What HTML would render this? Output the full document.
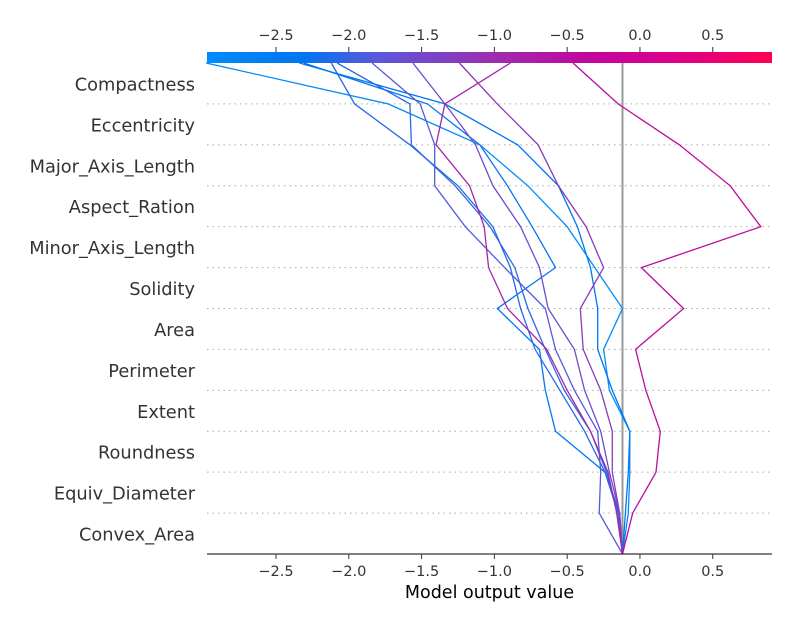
<!DOCTYPE html>
<html><head><meta charset="utf-8"><style>
html,body{margin:0;padding:0;background:#fff;}
svg{display:block;font-family:"DejaVu Sans","Liberation Sans",sans-serif;}
</style></head><body>
<svg id="chart" width="800" height="630" viewBox="0 0 800 630">
<defs><linearGradient id="cbar" x1="0" x2="1" y1="0" y2="0">
<stop offset="0" stop-color="#008bfb"/><stop offset="0.17" stop-color="#0075f0"/>
<stop offset="0.3" stop-color="#5a58dc"/><stop offset="0.5" stop-color="#9b2fb0"/>
<stop offset="0.67" stop-color="#c0069e"/><stop offset="0.8" stop-color="#d80090"/>
<stop offset="1" stop-color="#ff0052"/></linearGradient></defs>
</svg>
<script>
const features = ["Compactness","Eccentricity","Major_Axis_Length","Aspect_Ration","Minor_Axis_Length","Solidity","Area","Perimeter","Extent","Roundness","Equiv_Diameter","Convex_Area"];
const xTicks = [-2.5,-2.0,-1.5,-1.0,-0.5,0.0,0.5];
const xTickLabels = ["\u22122.5","\u22122.0","\u22121.5","\u22121.0","\u22120.5","0.0","0.5"];
const baseValue = -0.12;
const xMin = -2.974, xMax = 0.907;
const s1 = [-2.98,-1.73,-1.10,-0.77,-0.50,-0.31,-0.12,-0.25,-0.21,-0.07,-0.07,-0.08,-0.12];
const s2 = [-2.34,-1.34,-0.84,-0.56,-0.43,-0.34,-0.29,-0.29,-0.19,-0.07,-0.08,-0.10,-0.12];
const s3 = [-2.31,-1.46,-1.10,-0.91,-0.74,-0.58,-0.98,-0.69,-0.65,-0.58,-0.24,-0.15,-0.12];
const s4 = [-2.12,-1.96,-1.58,-1.25,-1.01,-0.89,-0.82,-0.72,-0.55,-0.38,-0.24,-0.14,-0.12];
const s5 = [-2.08,-1.58,-1.57,-1.27,-1.03,-0.86,-0.77,-0.65,-0.52,-0.34,-0.23,-0.15,-0.12];
const s6 = [-1.84,-1.51,-1.41,-1.41,-1.20,-0.93,-0.65,-0.58,-0.45,-0.29,-0.27,-0.28,-0.12];
const s7 = [-1.56,-1.34,-1.13,-1.01,-0.82,-0.69,-0.63,-0.45,-0.38,-0.27,-0.21,-0.14,-0.12];
const s8 = [-1.24,-0.98,-0.70,-0.56,-0.37,-0.25,-0.41,-0.39,-0.27,-0.19,-0.19,-0.14,-0.12];
const s9 = [-0.89,-1.34,-1.40,-1.17,-1.07,-1.04,-0.91,-0.64,-0.50,-0.34,-0.22,-0.16,-0.12];
const s10 = [-0.46,-0.15,0.27,0.62,0.83,0.01,0.30,-0.03,0.04,0.14,0.11,-0.05,-0.12];
const seriesList = [s1,s2,s3,s4,s5,s6,s7,s8,s9,s10];

const L=207,R=772,T=63,B=554;
const rowH=(B-T)/features.length;
const xs=v=>L+(v-xMin)/(xMax-xMin)*(R-L);
const ys=i=>T+i*rowH;
const NS="http://www.w3.org/2000/svg";
const svg=document.getElementById('chart');
function mk(tag,attrs,parent){const e=document.createElementNS(NS,tag);for(const k in attrs)e.setAttribute(k,attrs[k]);(parent||svg).appendChild(e);return e;}
const stops=[[0,[0,139,251]],[0.17,[0,117,240]],[0.3,[90,88,220]],[0.5,[155,47,176]],[0.67,[192,6,158]],[0.8,[216,0,144]],[1,[255,0,82]]];
function cmap(t){t=Math.max(0,Math.min(1,t));for(let i=1;i<stops.length;i++){if(t<=stops[i][0]){const a=stops[i-1],b=stops[i];const f=(t-a[0])/(b[0]-a[0]);const c=a[1].map((v,j)=>Math.round(v+(b[1][j]-v)*f));return `rgb(${c})`;}}return 'rgb(255,0,82)';}

features.forEach((f,i)=>{
  if(i>0){const g=mk('line',{x1:L,x2:R,y1:ys(i),y2:ys(i),stroke:'#aaa','stroke-width':1,'stroke-dasharray':'1.5,4'});
  
  }
  const t=mk('text',{x:195,y:ys(i)+rowH/2+7,'text-anchor':'end','font-size':17.8,fill:'#333'});
  t.textContent=f;
  
  
});
const bl=mk('line',{x1:xs(baseValue),x2:xs(baseValue),y1:T,y2:B,stroke:'#999','stroke-width':2});


seriesList.forEach(s=>{
  const pts=s.map((v,i)=>xs(v).toFixed(1)+','+ys(i).toFixed(1)).join(' ');
  const p=mk('polyline',{points:pts,fill:'none',stroke:cmap((s[0]-xMin)/(xMax-xMin)),'stroke-width':1.3});
  
  
});
const cb=mk('rect',{x:L,y:52,width:R-L,height:11,fill:'url(#cbar)'});


const ax=mk('line',{x1:L,x2:R,y1:B,y2:B,stroke:'#000','stroke-width':1});


xTicks.forEach((v,i)=>{
  const x=xs(v);
  mk('line',{x1:x,x2:x,y1:B,y2:B+5,stroke:'#333'});
  const t=mk('text',{x:x,y:B+22,'text-anchor':'middle','font-size':14.5,fill:'#333'});
  t.textContent=xTickLabels[i];
  
  
  mk('line',{x1:x,x2:x,y1:47,y2:52,stroke:'#333'});
  const t2=mk('text',{x:x,y:40,'text-anchor':'middle','font-size':14.5,fill:'#333'});
  t2.textContent=xTickLabels[i];
  
  
});
const xl=mk('text',{x:(L+R)/2,y:598,'text-anchor':'middle','font-size':17.5,fill:'#000'});
xl.textContent='Model output value';


</script>
</body></html>
